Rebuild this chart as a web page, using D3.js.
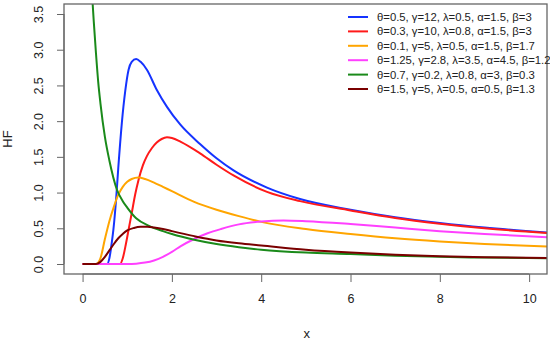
<!DOCTYPE html>
<html><head><meta charset="utf-8">
<script src="https://cdn.jsdelivr.net/npm/d3@7"></script>
<style>body{margin:0;background:#fff}svg{display:block}text{font-family:"Liberation Sans",Arial,sans-serif;fill:#222}</style>
</head><body><svg id="c" width="550" height="345"></svg>
<script>
const xTicks=[0,2,4,6,8,10];
const yTicks=[0,0.5,1,1.5,2,2.5,3,3.5];
const labels=["θ=0.5, γ=12, λ=0.5, α=1.5, β=3","θ=0.3, γ=10, λ=0.8, α=1.5, β=3","θ=0.1, γ=5, λ=0.5, α=1.5, β=1.7","θ=1.25, γ=2.8, λ=3.5, α=4.5, β=1.2","θ=0.7, γ=0.2, λ=0.8, α=3, β=0.3","θ=1.5, γ=5, λ=0.5, α=0.5, β=1.3"];
const colors=["#1533ff","#ff1a1a","#ffa500","#ff40ff","#1a8a1a","#7a0000"];

const blueX=[0,0.55,0.6,0.65,0.69,0.75,0.8,0.88,0.955,1.03,1.1,1.2,1.3,1.44,1.66,1.89,2.19,2.63,3.0,3.38,4.13,4.87,6,7,8,9,10.4];
const blueY=[0,0,0.08,0.28,0.48,0.9,1.35,1.98,2.42,2.72,2.83,2.87,2.83,2.72,2.44,2.2,1.95,1.68,1.48,1.31,1.07,0.91,0.76,0.655,0.575,0.51,0.44];
const redX=[0,0.84,0.9,0.97,1.03,1.1,1.18,1.25,1.35,1.44,1.55,1.66,1.77,1.89,2.0,2.2,2.63,3.0,3.38,4.13,4.87,6,7,8,9,10.4];
const redY=[0,0,0.08,0.28,0.48,0.71,0.98,1.17,1.38,1.51,1.62,1.7,1.75,1.775,1.765,1.71,1.55,1.39,1.24,1.01,0.88,0.75,0.645,0.565,0.5,0.435];
const orangeX=[0,0.3,0.4,0.5,0.6,0.7,0.8,0.9,1.0,1.1,1.25,1.4,1.6,1.8,2.0,2.5,3,3.5,4,5,6,7,8,9,10.4];
const orangeY=[0,0,0.08,0.35,0.6,0.8,0.97,1.08,1.15,1.19,1.21,1.19,1.14,1.08,1.02,0.87,0.76,0.67,0.59,0.49,0.42,0.36,0.315,0.28,0.245];
const pinkX=[0,1.0,1.2,1.4,1.6,1.8,2.0,2.2,2.5,2.8,3.1,3.5,4.0,4.5,5.0,6,7,8,9,10.4];
const pinkY=[0,0,0.005,0.02,0.05,0.1,0.17,0.25,0.35,0.43,0.49,0.555,0.595,0.61,0.6,0.56,0.51,0.46,0.42,0.375];
const greenX=[0.2,0.25,0.3,0.35,0.4,0.5,0.6,0.77,0.9,1.0,1.2,1.5,1.8,2.0,2.5,3,3.5,4,5,6,7,8,9,10.4];
const greenY=[3.9,3.4,2.95,2.55,2.25,1.78,1.45,1.04,0.88,0.79,0.64,0.53,0.46,0.42,0.34,0.28,0.235,0.2,0.16,0.14,0.115,0.1,0.09,0.08];
const brownX=[0,0.3,0.4,0.5,0.6,0.7,0.8,0.9,1.0,1.15,1.3,1.45,1.6,1.8,2.0,2.5,3,3.5,4,5,6,7,8,9,10.4];
const brownY=[0,0,0.03,0.1,0.19,0.28,0.36,0.42,0.47,0.505,0.52,0.52,0.51,0.49,0.46,0.39,0.33,0.29,0.26,0.2,0.16,0.13,0.11,0.095,0.084];

const seriesX=[blueX,redX,orangeX,pinkX,greenX,brownX];
const seriesY=[blueY,redY,orangeY,pinkY,greenY,brownY];

const svg=d3.select("#c");
const L=64,R=547,T=4,B=274;
const x=d3.scaleLinear().domain([-0.416,10.4]).range([L,R]);
const y=d3.scaleLinear().domain([-0.14,3.64]).range([B,T]);

svg.append("clipPath").attr("id","clip").append("rect").attr("x",L).attr("y",T).attr("width",R-L).attr("height",B-T);

const line=d3.line().x(d=>x(d[0])).y(d=>y(d[1])).curve(d3.curveMonotoneX);
const g=svg.append("g").attr("clip-path","url(#clip)");
seriesX.forEach((xs,i)=>{
  const pts=xs.map((v,j)=>[v,seriesY[i][j]]);
  g.append("path").attr("d",line(pts)).attr("fill","none").attr("stroke",colors[i]).attr("stroke-width",2);
});

svg.append("rect").attr("x",L).attr("y",T).attr("width",R-L).attr("height",B-T).attr("fill","none").attr("stroke","#666").attr("stroke-width",1.3);

const xa=svg.append("g").attr("transform",`translate(0,${B})`).call(d3.axisBottom(x).tickValues(xTicks).tickFormat(d3.format("d")).tickSize(8).tickPadding(12));
xa.select(".domain").attr("d",`M${x(0)},0H${x(10)}`).attr("stroke","#666");
xa.selectAll("line").attr("stroke","#666");
xa.selectAll("text").attr("font-size",12.5).attr("fill","#222").attr("font-family","Liberation Sans, Arial");

const ya=svg.append("g").attr("transform",`translate(${L},0)`).call(d3.axisLeft(y).tickValues(yTicks).tickFormat(d3.format(".1f")).tickSize(7).tickPadding(0));
ya.select(".domain").attr("d",`M0,${y(0)}V${y(3.5)}`).attr("stroke","#666");
ya.selectAll("line").attr("stroke","#666");
ya.selectAll("text").attr("font-size",12.5).attr("fill","#222").attr("font-family","Liberation Sans, Arial")
  .attr("text-anchor","middle").attr("x",0).attr("dy",0)
  .attr("transform","translate(-21,0) rotate(-90)")
  .attr("y",0);

svg.append("text").attr("x",(x(0)+x(10))/2+1).attr("y",338).attr("text-anchor","middle").attr("font-size",13).text("x");
svg.append("text").attr("transform",`translate(12,${(y(0)+y(3.5))/2}) rotate(-90)`).attr("text-anchor","middle").attr("font-size",13).text("HF");

const lg=svg.append("g");
labels.forEach((t,i)=>{
  const yy=17+i*14.4;
  lg.append("line").attr("x1",348).attr("x2",368).attr("y1",yy).attr("y2",yy).attr("stroke",colors[i]).attr("stroke-width",2);
  lg.append("text").attr("x",377).attr("y",yy+4).attr("font-size",11.3).text(t);
});
</script></body></html>
